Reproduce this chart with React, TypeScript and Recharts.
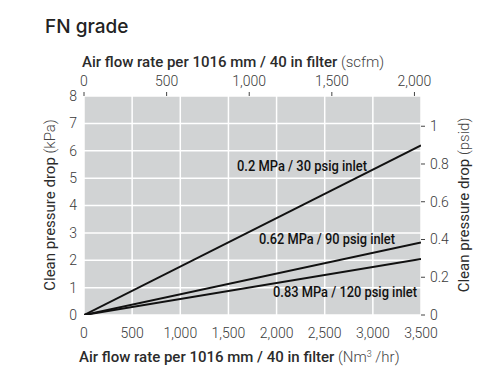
import React from "react";
import {
  CartesianGrid,
  ComposedChart,
  Label,
  Line,
  ReferenceDot,
  XAxis,
  YAxis,
} from "recharts";

// flow in Nm3/hr, clean pressure drop in kPa
const flowNm3 = [0, 3500];
const drop30 = [0, 6.2];
const drop90 = [0, 2.65];
const drop120 = [0, 2.05];

const bottomTicks = [0, 500, 1000, 1500, 2000, 2500, 3000, 3500];
const topTicks = [0, 500, 1000, 1500, 2000];
const kpaTicks = [0, 1, 2, 3, 4, 5, 6, 7, 8];
const psidTicks = [0, 0.2, 0.4, 0.6, 0.8, 1];

// unit conversions for the secondary axes
const KPA_PER_PSI = 6.895;
const NM3_PER_SCFM = 1.716;
const psidMax = 8 / KPA_PER_PSI;
const scfmMax = 3500 / NM3_PER_SCFM;

const seriesLabels = [
  { text: "0.2 MPa / 30 psig inlet", flow: 1589, kpa: 5.45, width: 130 },
  { text: "0.62 MPa / 90 psig inlet", flow: 1817, kpa: 2.76, width: 136 },
  { text: "0.83 MPa / 120 psig inlet", flow: 1963, kpa: 0.84, width: 144 },
];

const rows = flowNm3.map((flow, i) => ({
  flow,
  scfm: flow / NM3_PER_SCFM,
  p30: drop30[i],
  p90: drop90[i],
  p120: drop120[i],
  psid30: drop30[i] / KPA_PER_PSI,
}));

const FONT = "Roboto, 'Liberation Sans', sans-serif";
const TEXT = "#2b2b2b";
const tickStyle = { fill: "#3a3a3a", fontSize: 14, fontFamily: FONT, fontWeight: 300 };
const fmt = (v: number) => v.toLocaleString("en-US");

function TopTitle() {
  return (
    <g>
      <text x={45} y={33} fontFamily="Inter, sans-serif" fontSize={19} fontWeight={500} fill="#222">
        FN grade
      </text>
      <text x={82} y={67} fontFamily={FONT} fontSize={15} fill={TEXT}>
        <tspan fontWeight={500}>Air flow rate per 1016 mm / 40 in filter</tspan>
        <tspan fontWeight={300} fill="#444"> (scfm)</tspan>
      </text>
    </g>
  );
}

function BottomTitle() {
  return (
    <text x={79} y={362} fontFamily={FONT} fontSize={15} fill={TEXT}>
      <tspan fontWeight={500}>Air flow rate per 1016 mm / 40 in filter</tspan>
      <tspan fontWeight={300} fill="#444"> (Nm</tspan>
      <tspan fontWeight={300} fill="#444" fontSize={9} dy={-5}>3</tspan>
      <tspan fontWeight={300} fill="#444" dy={5}> /hr)</tspan>
    </text>
  );
}

function SideTitle({ cx, cy, unit }: { cx: number; cy: number; unit: string }) {
  return (
    <text
      x={cx}
      y={cy}
      transform={`rotate(-90 ${cx} ${cy})`}
      textAnchor="middle"
      dominantBaseline="central"
      fontFamily={FONT}
      fontSize={15}
      fill={TEXT}
    >
      <tspan fontWeight={400}>Clean pressure drop</tspan>
      <tspan fontWeight={300} fill="#444"> ({unit})</tspan>
    </text>
  );
}

export default function App() {
  return (
    <div style={{ position: "absolute", left: 0, top: 0, background: "#fff" }}>
      <ComposedChart
        width={500}
        height={388}
        data={rows}
        margin={{ top: 66, right: 39, bottom: 43, left: 50 }}
      >
        <CartesianGrid
          xAxisId="n"
          yAxisId="k"
          fill="#d1d3d4"
          stroke="#ffffff"
          strokeWidth={1.5}
        />
        <XAxis
          xAxisId="n"
          dataKey="flow"
          type="number"
          domain={[0, 3500]}
          allowDataOverflow
          ticks={bottomTicks}
          tickFormatter={fmt}
          interval={0}
          height={30}
          axisLine={false}
          tickLine={false}
          tickSize={6}
          tickMargin={7}
          tick={tickStyle}
        >
          <Label content={() => <BottomTitle />} />
        </XAxis>
        <XAxis
          xAxisId="s"
          dataKey="scfm"
          orientation="top"
          type="number"
          domain={[0, scfmMax]}
          allowDataOverflow
          ticks={topTicks}
          tickFormatter={fmt}
          interval={0}
          height={30}
          axisLine={false}
          tickLine={{ stroke: "#444" }}
          tickSize={4}
          tickMargin={6}
          tick={tickStyle}
        >
          <Label content={() => <TopTitle />} />
        </XAxis>
        <YAxis
          yAxisId="k"
          type="number"
          domain={[0, 8]}
          allowDataOverflow
          ticks={kpaTicks}
          interval={0}
          width={34}
          axisLine={false}
          tickLine={false}
          tickSize={2}
          tickMargin={5}
          tick={tickStyle}
        >
          <Label content={() => <SideTitle cx={50} cy={205} unit="kPa" />} />
        </YAxis>
        <YAxis
          yAxisId="p"
          orientation="right"
          type="number"
          domain={[0, psidMax]}
          allowDataOverflow
          ticks={psidTicks}
          tickFormatter={(v: number) => String(Math.round(v * 10) / 10)}
          interval={0}
          width={40}
          axisLine={false}
          tickLine={{ stroke: "#444" }}
          tickSize={4}
          tickMargin={5}
          tick={tickStyle}
        >
          <Label content={() => <SideTitle cx={464} cy={205} unit="psid" />} />
        </YAxis>
        {/* invisible copy on the secondary axes so they get a scale */}
        <Line
          xAxisId="s"
          yAxisId="p"
          dataKey="psid30"
          stroke="none"
          dot={false}
          activeDot={false}
          legendType="none"
          isAnimationActive={false}
        />
        {(["p30", "p90", "p120"] as const).map((key) => (
          <Line
            key={key}
            xAxisId="n"
            yAxisId="k"
            dataKey={key}
            type="linear"
            stroke="#111"
            strokeWidth={2}
            dot={false}
            activeDot={false}
            isAnimationActive={false}
          />
        ))}
        {seriesLabels.map((s) => (
          <ReferenceDot
            key={s.text}
            xAxisId="n"
            yAxisId="k"
            x={s.flow}
            y={s.kpa}
            r={0}
            fill="none"
            stroke="none"
            label={{
              content: ({ viewBox }: any) => (
                <text
                  x={viewBox.x}
                  y={viewBox.y}
                  dominantBaseline="central"
                  fontFamily={FONT}
                  fontSize={15}
                  fontWeight={500}
                  fill="#111"
                  textLength={s.width}
                  lengthAdjust="spacingAndGlyphs"
                >
                  {s.text}
                </text>
              ),
            }}
          />
        ))}
      </ComposedChart>
    </div>
  );
}
